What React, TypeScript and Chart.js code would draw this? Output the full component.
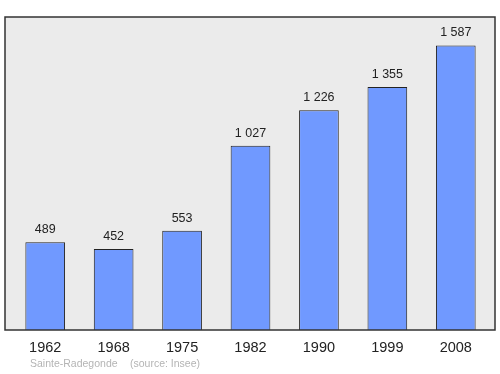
import React, { useEffect, useRef } from "react";
import { Chart, registerables } from "chart.js";

Chart.register(...registerables);

const categories: string[] = ["1962", "1968", "1975", "1982", "1990", "1999", "2008"];
const population: number[] = [489, 452, 553, 1027, 1226, 1355, 1587];
const sourceLabel = "Sainte-Radegonde";
const sourceNote = "(source: Insee)";

const FONT = "'Liberation Sans', Arial, sans-serif";

function fmt(v: number): string {
  return v.toString().replace(/\B(?=(\d{3})+(?!\d))/g, " ");
}

export default function App() {
  const ref = useRef<HTMLCanvasElement | null>(null);

  useEffect(() => {
    if (!ref.current) return;
    const frame = { left: 5, top: 17, right: 495, bottom: 330 };

    const framePlugin = {
      id: "frame",
      beforeDatasetsDraw(chart: any) {
        const ctx = chart.ctx;
        ctx.save();
        ctx.fillStyle = "#ebebeb";
        ctx.fillRect(frame.left, frame.top, frame.right - frame.left, frame.bottom - frame.top);
        ctx.restore();
      },
      afterDatasetsDraw(chart: any) {
        const ctx = chart.ctx;
        ctx.save();
        ctx.strokeStyle = "#333333";
        ctx.lineWidth = 1.5;
        ctx.strokeRect(frame.left, frame.top, frame.right - frame.left, frame.bottom - frame.top);
        // value labels
        const meta = chart.getDatasetMeta(0);
        ctx.fillStyle = "#222222";
        ctx.font = `12.5px ${FONT}`;
        ctx.textAlign = "center";
        ctx.textBaseline = "alphabetic";
        meta.data.forEach((el: any, i: number) => {
          ctx.fillText(fmt(population[i]), el.x, el.y - 9);
        });
        // source
        ctx.fillStyle = "#b4b4b4";
        ctx.font = `10.5px ${FONT}`;
        ctx.textAlign = "left";
        ctx.textBaseline = "middle";
        ctx.fillText(sourceLabel, 30, 364);
        ctx.fillText(sourceNote, 130, 364);
        ctx.restore();
      },
    };

    const chart = new Chart(ref.current, {
      type: "bar",
      data: {
        labels: categories,
        datasets: [
          {
            data: population,
            backgroundColor: "rgb(112,153,255)",
            borderColor: "#222222",
            borderWidth: 1,
            barPercentage: 0.58,
            categoryPercentage: 1,
          },
        ],
      },
      options: {
        responsive: false,
        animation: false,
        layout: { padding: { left: 11, right: 10, top: 17, bottom: 0 } },
        plugins: {
          legend: { display: false },
          tooltip: { enabled: false },
        },
        scales: {
          x: {
            grid: { display: false, drawTicks: false },
            border: { display: false },
            ticks: {
              font: { family: FONT, size: 14.5 },
              color: "#222222",
              padding: 9,
              maxRotation: 0,
            },
            afterFit: (scale: any) => {
              scale.height = 44;
            },
          },
          y: {
            display: false,
            min: 0,
            max: Math.max(...population) * 1.1,
          },
        },
      },
      plugins: [framePlugin],
    });
    return () => chart.destroy();
  }, []);

  return (
    <div style={{ position: "fixed", left: 0, top: 0, width: 500, height: 374, background: "#ffffff" }}>
      <canvas ref={ref} width={500} height={374} style={{ display: "block" }} />
    </div>
  );
}
